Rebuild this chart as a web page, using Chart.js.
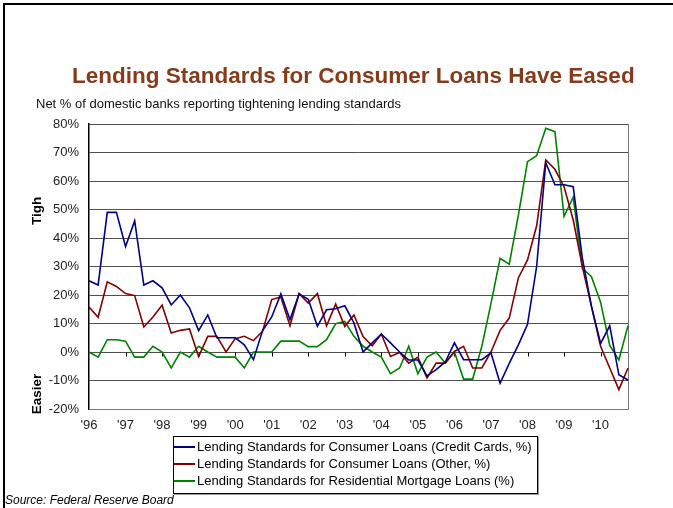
<!DOCTYPE html>
<html>
<head>
<meta charset="utf-8">
<script src="https://cdn.jsdelivr.net/npm/chart.js@4.4.0/dist/chart.umd.min.js"></script>
<style>
  html, body { margin: 0; padding: 0; background: #fff; }
  #wrap { position: relative; width: 673px; height: 508px; overflow: hidden; font-family: "Liberation Sans", Arial, sans-serif; }
  #frame { position: absolute; left: 3px; top: 3px; right: -10px; bottom: -10px; border-top: 2px solid #000; border-left: 2px solid #000; pointer-events: none; }
  #title { position: absolute; left: 72px; top: 65px; white-space: nowrap; font-weight: bold; font-size: 22.5px; line-height: 22.5px; color: #843c1c; }
  #subtitle { position: absolute; left: 36px; top: 97px; white-space: nowrap; font-size: 13px; line-height: 13px; color: #111; }
  #source { position: absolute; left: 5px; top: 494px; white-space: nowrap; font-size: 12px; line-height: 12px; font-style: italic; color: #000; }
  #legend { position: absolute; left: 173px; top: 436px; width: 363px; height: 55px; border: 1px solid #000; box-shadow: 1px 1px 0 #999; padding-top: 1px; box-sizing: content-box; }
  #legend .row { height: 17px; line-height: 17px; font-size: 13px; color: #000; white-space: nowrap; position: relative; padding-left: 23px; }
  #legend .swatch { position: absolute; left: 0; top: 8px; width: 21px; height: 2px; }
  canvas { position: absolute; left: 0; top: 0; }
</style>
</head>
<body>
<div id="wrap">
  <canvas id="chart" width="673" height="508"></canvas>
  <div id="frame"></div>
  <div id="title">Lending Standards for Consumer Loans Have Eased</div>
  <div id="subtitle">Net % of domestic banks reporting tightening lending standards</div>
  <div id="legend"></div>
  <div id="source">Source: Federal Reserve Board</div>
</div>
<script>
// year tick labels, one per year; data is quarterly (1996 Q1 .. 2010 Q4)
const yearLabels = ["'96", "'97", "'98", "'99", "'00", "'01", "'02", "'03", "'04", "'05", "'06", "'07", "'08", "'09", "'10"];
const quarters = yearLabels.flatMap(y => [y + ' Q1', y + ' Q2', y + ' Q3', y + ' Q4']);

const seriesNames = [
    'Lending Standards for Consumer Loans (Credit Cards, %)',
    'Lending Standards for Consumer Loans (Other, %)',
    'Lending Standards for Residential Mortgage Loans (%)'
];
const seriesColors = ['#000080', '#800000', '#008000'];

const creditCards = [
    25, 23.5, 49, 49, 37, 46, 23.5, 25, 22.5, 16.5, 20, 15.5,
    7.5, 13, 5, 5, 5, 2.5, -2.7, 7.5, 12.3, 20.4, 11.4, 20.4,
    18.5, 9, 14.8, 15.2, 16.2, 10.2, 0, 3.2, 6.3, 3.2, 0, -2.8,
    -2.8, -8.4, -6.2, -3.5, 3.2, -2.7, -2.7, -2.7, -0.3, -11, -4, 2.5,
    9.7, 30, 66.4, 58.7, 58.7, 58, 33, 16, 3, 9.2, -8, -9.8
];
const otherConsumer = [
    15.8, 12.2, 24.6, 23, 20.5, 19.8, 8.8, 12.3, 16.4, 6.7, 7.6, 8.1,
    -1.6, 5.5, 5.5, 0, 4.7, 5.5, 4, 7.3, 18.4, 19.3, 9.2, 20.5,
    17.2, 20.5, 9.2, 16.8, 9, 13, 5.4, 2.2, 6.3, -1.6, -0.2, -3.9,
    -1.8, -9.1, -3.9, -3.9, 0.2, 2, -5.6, -5.6, 0, 7.6, 11.9, 26,
    32.3, 44.3, 67.4, 64.1, 58, 46.4, 30, 16, 2, -5.6, -13.2, -5.6
];
const mortgages = [
    0, -1.8, 4.3, 4.3, 3.8, -1.8, -1.8, 2, 0, -5.6, 0, -1.8,
    2, 0, -1.8, -1.8, -1.8, -5.6, 0, 0, 0, 3.8, 3.8, 3.8,
    1.9, 1.9, 4.3, 9.9, 10.7, 5.5, 2, 0, -1.8, -7.6, -5.6, 2,
    -7.6, -1.8, 0, -3.9, 0, -9.5, -9.5, 2, 17, 32.9, 30.8, 48,
    66.8, 68.9, 78.5, 77.3, 47.6, 54.3, 29.4, 26.4, 17.5, 2.3, -2.8, 9.2
];

// html legend with boxed frame
const legendEl = document.getElementById('legend');
seriesNames.forEach((name, i) => {
    const row = document.createElement('div');
    row.className = 'row';
    row.innerHTML = '<span class="swatch" style="background:' + seriesColors[i] + '"></span>' + name;
    legendEl.appendChild(row);
});

Chart.defaults.font.family = '"Liberation Sans", Arial, sans-serif';

const frameAndMarks = {
    id: 'frameAndMarks',
    beforeDatasetsDraw(chart) {
        const { ctx, chartArea: a, scales: { x, y } } = chart;
        ctx.save();
        // right and bottom border of plot area
        ctx.strokeStyle = '#777';
        ctx.lineWidth = 1;
        ctx.beginPath();
        ctx.moveTo(a.left, a.bottom + 0.5);
        ctx.lineTo(a.right + 0.5, a.bottom + 0.5);
        ctx.lineTo(a.right + 0.5, a.top);
        ctx.stroke();
        // year tick marks hang off the 0% line
        const y0 = Math.round(y.getPixelForValue(0)) + 0.5;
        ctx.strokeStyle = '#000';
        ctx.beginPath();
        for (let i = 4; i < quarters.length; i += 4) {
            const px = Math.round(x.getPixelForValue(i)) + 0.5;
            ctx.moveTo(px, y0);
            ctx.lineTo(px, y0 + 4);
        }
        ctx.stroke();
        ctx.restore();
    },
    afterDraw(chart) {
        const ctx = chart.ctx;
        ctx.save();
        ctx.fillStyle = '#000';
        ctx.font = 'bold 13.5px "Liberation Sans", Arial, sans-serif';
        ctx.textAlign = 'center';
        ctx.textBaseline = 'alphabetic';
        [['Tigh', 211], ['Easier', 394]].forEach(([t, cy]) => {
            ctx.save();
            ctx.translate(41, cy);
            ctx.rotate(-Math.PI / 2);
            ctx.fillText(t, 0, 0);
            ctx.restore();
        });
        ctx.restore();
    }
};

new Chart(document.getElementById('chart'), {
    type: 'line',
    data: {
        labels: quarters,
        datasets: [creditCards, otherConsumer, mortgages].map((d, i) => ({
            label: seriesNames[i],
            data: d,
            borderColor: seriesColors[i],
            backgroundColor: seriesColors[i],
            borderWidth: 1.6,
            pointRadius: 0,
            tension: 0,
            fill: false
        }))
    },
    options: {
        responsive: false,
        animation: false,
        devicePixelRatio: 1,
        layout: { padding: { left: 0, right: 45, top: 124, bottom: 0 } },
        scales: {
            x: {
                grid: { display: false, drawTicks: false },
                border: { display: false },
                ticks: {
                    autoSkip: false,
                    maxRotation: 0,
                    minRotation: 0,
                    padding: 9,
                    color: '#222',
                    font: { size: 13 },
                    callback: (v, i) => (i % 4 === 0 ? yearLabels[i / 4] : '')
                },
                afterFit: s => { s.height = 99; }
            },
            y: {
                min: -20,
                max: 80,
                ticks: {
                    stepSize: 10,
                    padding: 10,
                    color: '#222',
                    font: { size: 13 },
                    callback: v => v + '%'
                },
                grid: { color: '#505050', lineWidth: 1, drawTicks: false },
                border: { display: true, color: '#000', width: 1.5 },
                afterFit: s => { s.width = 89; }
            }
        },
        plugins: {
            legend: { display: false },
            tooltip: { enabled: false }
        }
    },
    plugins: [frameAndMarks]
});
</script>
</body>
</html>
